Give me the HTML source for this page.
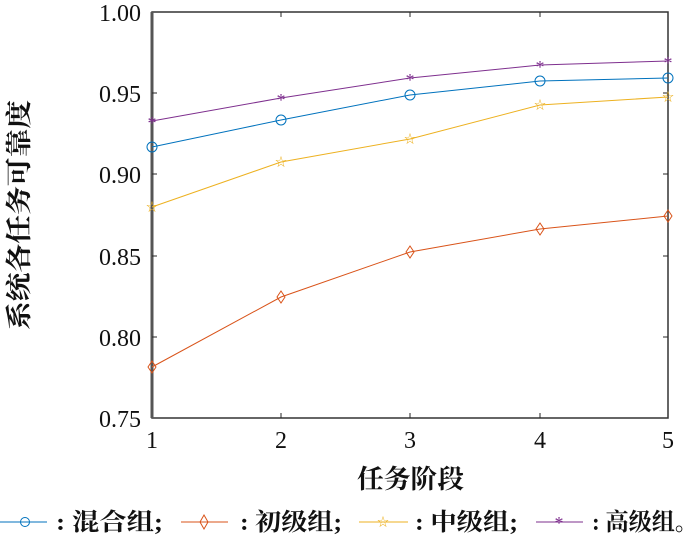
<!DOCTYPE html><html><head><meta charset="utf-8"><style>body{margin:0;background:#fff}svg{display:block}</style></head><body>
<svg width="700" height="538" xmlns="http://www.w3.org/2000/svg" font-family="Liberation Serif, Noto Serif CJK SC, serif">
<rect x="152" y="12" width="516" height="406" fill="none" stroke="#333" stroke-width="1.5"/>
<line x1="152" y1="12" x2="152" y2="418" stroke="#555" stroke-width="3"/>
<g stroke="#262626" stroke-width="1">
<line x1="281" y1="418" x2="281" y2="413"/><line x1="410" y1="418" x2="410" y2="413"/><line x1="540" y1="418" x2="540" y2="413"/>
<line x1="281" y1="12" x2="281" y2="17"/><line x1="410" y1="12" x2="410" y2="17"/><line x1="540" y1="12" x2="540" y2="17"/>
<line x1="152" y1="93" x2="157" y2="93"/><line x1="152" y1="174" x2="157" y2="174"/><line x1="152" y1="256" x2="157" y2="256"/><line x1="152" y1="337" x2="157" y2="337"/>
<line x1="668" y1="93" x2="663" y2="93"/><line x1="668" y1="174" x2="663" y2="174"/><line x1="668" y1="256" x2="663" y2="256"/><line x1="668" y1="337" x2="663" y2="337"/>
</g>
<g font-size="24" fill="#111" text-anchor="end">
<text x="141" y="21">1.00</text><text x="141" y="102">0.95</text><text x="141" y="183">0.90</text><text x="141" y="265">0.85</text><text x="141" y="346">0.80</text><text x="141" y="427">0.75</text>
</g>
<g font-size="24" fill="#111" text-anchor="middle">
<text x="152" y="448">1</text><text x="281" y="448">2</text><text x="410" y="448">3</text><text x="540" y="448">4</text><text x="668" y="448">5</text>
</g>
<g fill="#111" font-family="Noto Serif CJK SC, serif" font-weight="bold" font-size="26">
<text x="357" y="488" textLength="107" lengthAdjust="spacingAndGlyphs">任务阶段</text>
<text transform="translate(28,330) rotate(-90)" textLength="230" lengthAdjust="spacingAndGlyphs">系统各任务可靠度</text>
</g>
<g fill="none" stroke-width="1">
<polyline stroke="#0072BD" points="152,147 281,120 410,95 540,81 668,78"/>
<g stroke="#0072BD"><circle cx="152" cy="147" r="5"/><circle cx="281" cy="120" r="5"/><circle cx="410" cy="95" r="5"/><circle cx="540" cy="81" r="5"/><circle cx="668" cy="78" r="5"/></g>
<polyline stroke="#D95319" points="152,367 281,297 410,252 540,229 668,216"/>
<g stroke="#D95319"><path d="M152,361l4,6l-4,6l-4,-6z M281,291l4,6l-4,6l-4,-6z M410,246l4,6l-4,6l-4,-6z M540,223l4,6l-4,6l-4,-6z M668,210l4,6l-4,6l-4,-6z"/></g>
<polyline stroke="#EDB120" points="152,207 281,162 410,139 540,105 668,97"/>
<g font-size="12" text-anchor="middle" fill="#EDB120"><text x="152" y="211">☆</text><text x="281" y="166">☆</text><text x="410" y="143">☆</text><text x="540" y="109">☆</text><text x="668" y="101">☆</text></g>
<polyline stroke="#7E2F8E" points="152,121 281,98 410,78 540,65 668,61"/>
<g font-size="18" text-anchor="middle" fill="#7E2F8E"><text x="152" y="129">*</text><text x="281" y="106">*</text><text x="410" y="86">*</text><text x="540" y="73">*</text><text x="668" y="69">*</text></g>
</g>
<g font-size="24" fill="#111" font-weight="bold" font-family="Liberation Serif, Noto Serif CJK SC, serif">
<line x1="0" y1="522" x2="47" y2="522" stroke="#0072BD"/><circle cx="25" cy="522" r="4.5" fill="none" stroke="#0072BD"/>
<text x="56" y="530" textLength="107" lengthAdjust="spacingAndGlyphs">: 混合组;</text>
<line x1="181" y1="522" x2="228" y2="522" stroke="#D95319"/><path d="M204,515l4,7l-4,7l-4,-7z" fill="none" stroke="#D95319"/>
<text x="240" y="530" textLength="102" lengthAdjust="spacingAndGlyphs">: 初级组;</text>
<line x1="359" y1="522" x2="408" y2="522" stroke="#EDB120"/><text x="383" y="526" font-size="12" font-weight="normal" fill="#EDB120" text-anchor="middle">☆</text>
<text x="415" y="530" textLength="103" lengthAdjust="spacingAndGlyphs">: 中级组;</text>
<line x1="536" y1="522" x2="583" y2="522" stroke="#7E2F8E"/><text x="559" y="529" font-size="18" font-weight="normal" fill="#7E2F8E" text-anchor="middle">*</text>
<text x="592" y="530" textLength="106" lengthAdjust="spacingAndGlyphs">: 高级组。</text>
</g>
</svg></body></html>
